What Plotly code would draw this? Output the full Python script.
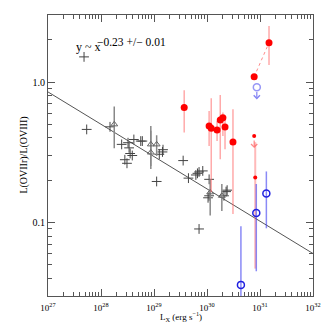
import numpy as np
import plotly.graph_objects as go

# ---- data ----
# black crosses (stars)
cross_lx = [27.68, 27.73, 28.17, 28.39, 28.45, 28.49, 28.51, 28.53, 28.55, 28.59, 28.62, 28.75, 28.78,
            29.05, 29.10, 29.16, 29.17, 29.55, 29.65, 29.79, 29.82, 29.85, 29.92, 29.85, 30.04, 30.04,
            30.02, 30.32, 30.36, 30.38]
cross_y = [1.51, 0.46, 0.48, 0.36, 0.28, 0.264, 0.37, 0.34, 0.31, 0.30, 0.39, 0.38, 0.38,
           0.196, 0.306, 0.318, 0.33, 0.276, 0.207, 0.218, 0.224, 0.229, 0.233, 0.090, 0.203, 0.155,
           0.15, 0.155, 0.166, 0.17]
# open triangles with error bars
tri_lx = [28.25, 28.94, 28.94, 29.05, 30.06, 30.28]
tri_y = [0.50, 0.36, 0.315, 0.36, 0.164, 0.155]
tri_hi = [0.671, 0.487, 0.45, 0.418, 0.203, 0.188]
tri_lo = [0.338, 0.253, 0.24, 0.298, 0.112, 0.121]
# red filled circles
red_lx = [29.57, 30.04, 30.08, 30.19, 30.25, 30.30, 30.34, 30.49, 30.89, 31.17]
red_y = [0.658, 0.487, 0.469, 0.456, 0.537, 0.558, 0.479, 0.375, 1.09, 1.905]
red_hi = [0.873, 0.622, 0.766, 0.528, 0.808, 0.606, 0.558, 0.64, 1.09, 2.5]
red_lo = [0.437, 0.351, 0.164, 0.381, 0.282, 0.413, 0.333, 0.115, 1.09, 1.32]
# small red dot
sred_lx = [30.91]
sred_y = [0.209]
sred_hi = [0.373]
sred_lo = [0.047]
# red upper limit
redlim_lx = [30.89]
redlim_y = [0.413]
# blue open circles
blue_lx = [30.93, 31.12, 30.64]
blue_y = [0.117, 0.161, 0.036]
blue_hi = [0.188, 0.231, 0.094]
blue_lo = [0.045, 0.091, 0.029]
# blue upper limit
bluelim_lx = [30.94]
bluelim_y = [0.917]
# power-law fit
fit_lx = [27, 32]
fit_slope = -0.23
fit_norm = 0.85  # value at 1e27

xt_vals = [27, 28, 29, 30, 31, 32]

def ex(v):
    return [float(10.0 ** a) for a in v]

def errs(y, hi, lo):
    return [h - a for a, h in zip(y, hi)], [a - l for a, l in zip(y, lo)]

FONT = "Liberation Serif"
fig = go.Figure()

# fit line
fx = ex(fit_lx)
fy = [fit_norm * (v / 1e27) ** fit_slope for v in fx]
fig.add_trace(go.Scatter(x=fx, y=fy, mode="lines", line=dict(color="#555555", width=1), showlegend=False))

# crosses
fig.add_trace(go.Scatter(x=ex(cross_lx), y=cross_y, mode="markers",
                         marker=dict(symbol="cross-thin", size=7, color="#444444",
                                     line=dict(color="#444444", width=1)),
                         showlegend=False))
# triangles
tp, tm = errs(tri_y, tri_hi, tri_lo)
fig.add_trace(go.Scatter(x=ex(tri_lx), y=tri_y, mode="markers",
                         marker=dict(symbol="triangle-up-open", size=6, color="#666666",
                                     line=dict(color="#666666", width=1)),
                         error_y=dict(type="data", array=tp, arrayminus=tm, color="#888888", thickness=1.5, width=0),
                         showlegend=False))
# red error bars and circles
rp, rm = errs(red_y, red_hi, red_lo)
fig.add_trace(go.Scatter(x=ex(red_lx[8:]), y=red_y[8:], mode="lines",
                         line=dict(color="rgba(255,90,90,0.7)", width=1, dash="dot"), showlegend=False))
fig.add_trace(go.Scatter(x=ex(red_lx), y=red_y, mode="markers",
                         marker=dict(symbol="circle", size=7, color="#ff0000"),
                         error_y=dict(type="data", array=rp, arrayminus=rm, color="rgba(255,100,100,0.55)", thickness=1.5, width=0),
                         showlegend=False))
sp, sm = errs(sred_y, sred_hi, sred_lo)
fig.add_trace(go.Scatter(x=ex(sred_lx), y=sred_y, mode="markers",
                         marker=dict(symbol="circle", size=4, color="#ff0000"),
                         error_y=dict(type="data", array=sp, arrayminus=sm, color="rgba(255,100,100,0.45)", thickness=2, width=0),
                         showlegend=False))
fig.add_trace(go.Scatter(x=ex(redlim_lx), y=redlim_y, mode="markers",
                         marker=dict(symbol="circle", size=4, color="#ff0000"), showlegend=False))
# blue
bp, bm = errs(blue_y, blue_hi, blue_lo)
fig.add_trace(go.Scatter(x=ex(blue_lx), y=blue_y, mode="markers",
                         marker=dict(symbol="circle-open", size=7, color="#2020e0",
                                     line=dict(color="#2020e0", width=1.5)),
                         error_y=dict(type="data", array=bp, arrayminus=bm, color="rgba(60,60,240,0.6)", thickness=1.5, width=0),
                         showlegend=False))
fig.add_trace(go.Scatter(x=ex(bluelim_lx), y=bluelim_y, mode="markers",
                         marker=dict(symbol="circle-open", size=7, color="rgba(80,80,240,0.6)",
                                     line=dict(color="rgba(80,80,240,0.6)", width=1.5)),
                         showlegend=False))

annotations = []
for lx, y, col in [(bluelim_lx[0], bluelim_y[0], "rgba(80,80,240,0.7)"), (redlim_lx[0], redlim_y[0], "rgba(255,90,90,0.7)")]:
    annotations.append(dict(x=lx, y=float(np.log10(y * 0.82)), ax=lx, ay=float(np.log10(y * 0.95)),
                            xref="x", yref="y", axref="x", ayref="y", text="", showarrow=True,
                            arrowhead=4, arrowsize=1, arrowwidth=1.2, arrowcolor=col))
annotations.append(dict(x=0.1, y=0.886, xref="paper", yref="paper", xanchor="left", yanchor="middle",
                        text="y ~ x", showarrow=False, borderpad=0,
                        font=dict(family=FONT, size=12, color="black")))
annotations.append(dict(x=0.182, y=0.905, xref="paper", yref="paper", xanchor="left", yanchor="middle",
                        text="\u22120.23 +/\u2212 0.01", showarrow=False, borderpad=0,
                        font=dict(family=FONT, size=11.5, color="black")))
# axis titles
annotations.append(dict(x=0.5, y=-0.072, xref="paper", yref="paper", xanchor="center", yanchor="middle",
                        text="L<sub>X</sub> (erg s<sup>\u22121</sup>)", showarrow=False, borderpad=0,
                        font=dict(family=FONT, size=9, color="black")))
annotations.append(dict(x=-0.094, y=0.5, xref="paper", yref="paper", xanchor="center", yanchor="middle",
                        text="L(OVIIr)/L(OVIII)", textangle=-90, showarrow=False, borderpad=0,
                        font=dict(family=FONT, size=10, color="black")))

minor_x = [float(m * 10.0 ** e) for e in range(27, 32) for m in range(2, 10)]
minor_y = [float(m * 10.0 ** e) for e in (-2, -1, 0) for m in range(2, 10) if 0.03 <= m * 10.0 ** e <= 3]

axis_common = dict(type="log", showgrid=False, zeroline=False, showline=True, linecolor="#555555",
                   linewidth=1, mirror="ticks", ticks="inside", ticklen=7, tickcolor="#555555",
                   automargin=False)
fig.update_xaxes(**axis_common, range=[27, 32], tickvals=ex(xt_vals),
                 ticktext=["10<sup>%d</sup>" % v for v in xt_vals],
                 tickfont=dict(family=FONT, size=9, color="black"), ticklabelstandoff=3,
                 minor=dict(tickvals=minor_x, ticks="inside", ticklen=4, tickcolor="#555555"))
fig.update_yaxes(**axis_common, range=[float(np.log10(0.03)), float(np.log10(3.0))], tickvals=[0.1, 1.0],
                 ticktext=["0.1", "1.0"], tickfont=dict(family=FONT, size=10, color="black"),
                 minor=dict(tickvals=minor_y, ticks="inside", ticklen=4, tickcolor="#555555"))

fig.update_layout(width=327, height=327, margin=dict(l=48, r=14, t=15, b=31),
                  paper_bgcolor="white", plot_bgcolor="white", annotations=annotations)
fig.write_html("out.html", config={"displayModeBar": False},
               post_script="document.body.style.margin='0px';document.body.style.overflow='hidden';")
